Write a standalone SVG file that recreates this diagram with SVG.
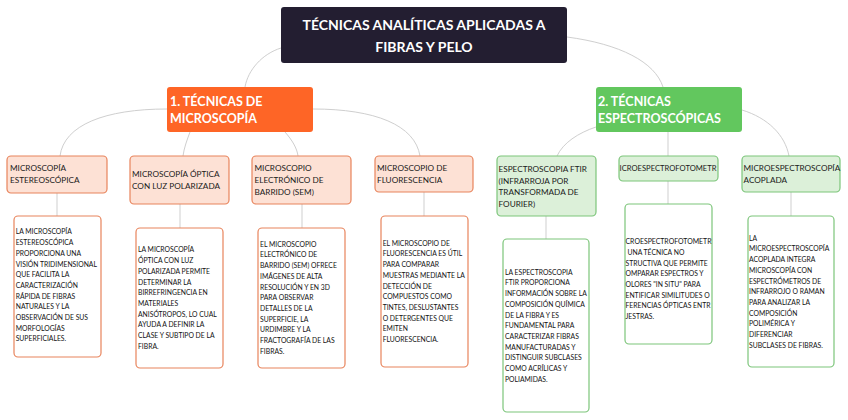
<svg xmlns="http://www.w3.org/2000/svg" width="848" height="420" viewBox="0 0 848 420">
<defs>
<style>
.conn{fill:none;stroke:#cfcfcf;stroke-width:1}
.title{fill:#231e31}
.tt{font-family:Lato,"Liberation Sans",sans-serif;font-weight:bold;font-size:14px;fill:#ffffff}
.ht{font-family:Lato,"Liberation Sans",sans-serif;font-weight:bold;font-size:12.5px;fill:#ffffff}
.oc{fill:#fde1d5;stroke:#e8845c;stroke-width:1.2}
.gc{fill:#dcf0d9;stroke:#7cc57a;stroke-width:1.2}
.od{fill:#ffffff;stroke:#e8845c;stroke-width:1.2}
.gd{fill:#ffffff;stroke:#7cc57a;stroke-width:1.2}
.ct{font-family:Lato,"Liberation Sans",sans-serif;font-size:8.2px;fill:#1a1a1a}
.dt{font-family:Lato,"Liberation Sans",sans-serif;font-size:6.8px;fill:#111111}
</style>
<clipPath id="cg2"><rect x="619" y="156" width="99" height="25"/></clipPath>
<clipPath id="cg2d"><rect x="625" y="204" width="87" height="140"/></clipPath>
</defs>
<rect width="848" height="420" fill="#ffffff"/>
<g id="connectors">
<path class="conn" d="M281,48 C262,54 248,70 245,87"/>
<path class="conn" d="M567,37 C620,44 655,62 663,87"/>
<path class="conn" d="M167,109 C105,109 64,125 60,156"/>
<path class="conn" d="M190,132 C187,140 184,148 183,156"/>
<path class="conn" d="M285,132 C292,140 297,148 298,156"/>
<path class="conn" d="M313,109 C375,109 415,125 420,156"/>
<path class="conn" d="M596,127 C578,133 563,143 557,156"/>
<path class="conn" d="M668,132 L668,156"/>
<path class="conn" d="M742,110 C768,118 785,135 789,156"/>
<path class="conn" d="M57,193 L57,216"/>
<path class="conn" d="M180,204 L180,228"/>
<path class="conn" d="M302,204 L302,228"/>
<path class="conn" d="M424,192 L424,216"/>
<path class="conn" d="M546,216 L546,239"/>
<path class="conn" d="M668,181 L668,204"/>
<path class="conn" d="M791,192 L791,216"/>
</g>
<g id="title">
<rect class="title" x="281" y="7" width="286" height="56" rx="3"/>
<text class="tt" x="424" y="30" text-anchor="middle">TÉCNICAS ANALÍTICAS APLICADAS A</text>
<text class="tt" x="424" y="52" text-anchor="middle">FIBRAS Y PELO</text>
</g>
<g id="microscopia">
<rect x="167" y="87" width="146" height="45" rx="3" fill="#fe6526"/>
<text class="ht" x="170" y="105.5">1. TÉCNICAS DE</text>
<text class="ht" x="170" y="122.5">MICROSCOPÍA</text>
</g>
<g id="espectroscopicas">
<rect x="596" y="87" width="146" height="45" rx="3" fill="#62c75e"/>
<text class="ht" x="598" y="105.5">2. TÉCNICAS</text>
<text class="ht" x="598" y="122.5">ESPECTROSCÓPICAS</text>
</g>
<g id="estereo">
<rect class="oc" x="7" y="156" width="100" height="37" rx="4"/>
<text class="ct" x="10" y="171">MICROSCOPÍA</text>
<text class="ct" x="10" y="183">ESTEREOSCÓPICA</text>
</g>
<g id="optica">
<rect class="oc" x="130" y="156" width="99" height="48" rx="4"/>
<text class="ct" x="132" y="177">MICROSCOPÍA ÓPTICA</text>
<text class="ct" x="132" y="189">CON LUZ POLARIZADA</text>
</g>
<g id="sem">
<rect class="oc" x="252" y="156" width="99" height="48" rx="4"/>
<text class="ct" x="254.5" y="171">MICROSCOPIO</text>
<text class="ct" x="254.5" y="183">ELECTRÓNICO DE</text>
<text class="ct" x="254.5" y="195">BARRIDO (SEM)</text>
</g>
<g id="fluorescencia">
<rect class="oc" x="375" y="156" width="98" height="36" rx="4"/>
<text class="ct" x="377" y="171">MICROSCOPIO DE</text>
<text class="ct" x="377" y="183">FLUORESCENCIA</text>
</g>
<g id="ftir">
<rect class="gc" x="497" y="156" width="99" height="60" rx="4"/>
<text class="ct" x="498.5" y="172">ESPECTROSCOPIA FTIR</text>
<text class="ct" x="498.5" y="183.7">(INFRARROJA POR</text>
<text class="ct" x="498.5" y="195.3">TRANSFORMADA DE</text>
<text class="ct" x="498.5" y="206.5">FOURIER)</text>
</g>
<g id="microespectrofotometria">
<rect class="gc" x="619" y="156" width="99" height="25" rx="4"/>
<text class="ct" x="619.5" y="171" textLength="97" lengthAdjust="spacingAndGlyphs" clip-path="url(#cg2)">ICROESPECTROFOTOMETR</text>
</g>
<g id="acoplada">
<rect class="gc" x="742" y="156" width="98" height="36" rx="4"/>
<text class="ct" x="743.5" y="171">MICROESPECTROSCOPÍA</text>
<text class="ct" x="743.5" y="183">ACOPLADA</text>
</g>
<g id="desc-estereo">
<rect class="od" x="14" y="216" width="87" height="141" rx="4"/>
<text class="dt" x="15.7" y="234.4">LA MICROSCOPÍA</text>
<text class="dt" x="15.7" y="245.1">ESTEREOSCÓPICA</text>
<text class="dt" x="15.7" y="255.8">PROPORCIONA UNA</text>
<text class="dt" x="15.7" y="266.5">VISIÓN TRIDIMENSIONAL</text>
<text class="dt" x="15.7" y="277.2">QUE FACILITA LA</text>
<text class="dt" x="15.7" y="287.9">CARACTERIZACIÓN</text>
<text class="dt" x="15.7" y="298.6">RÁPIDA DE FIBRAS</text>
<text class="dt" x="15.7" y="309.3">NATURALES Y LA</text>
<text class="dt" x="15.7" y="320">OBSERVACIÓN DE SUS</text>
<text class="dt" x="15.7" y="330.7">MORFOLOGÍAS</text>
<text class="dt" x="15.7" y="341.4">SUPERFICIALES.</text>
</g>
<g id="desc-optica">
<rect class="od" x="136" y="228" width="87" height="140" rx="4"/>
<text class="dt" x="138" y="252.4">LA MICROSCOPÍA</text>
<text class="dt" x="138" y="263.1">ÓPTICA CON LUZ</text>
<text class="dt" x="138" y="273.8">POLARIZADA PERMITE</text>
<text class="dt" x="138" y="284.5">DETERMINAR LA</text>
<text class="dt" x="138" y="295.2">BIRREFRINGENCIA EN</text>
<text class="dt" x="138" y="305.9">MATERIALES</text>
<text class="dt" x="138" y="316.6">ANISÓTROPOS, LO CUAL</text>
<text class="dt" x="138" y="327.3">AYUDA A DEFINIR LA</text>
<text class="dt" x="138" y="338">CLASE Y SUBTIPO DE LA</text>
<text class="dt" x="138" y="348.7">FIBRA.</text>
</g>
<g id="desc-sem">
<rect class="od" x="258" y="228" width="87" height="140" rx="4"/>
<text class="dt" x="260" y="246.7">EL MICROSCOPIO</text>
<text class="dt" x="260" y="257.4">ELECTRÓNICO DE</text>
<text class="dt" x="260" y="268.1">BARRIDO (SEM) OFRECE</text>
<text class="dt" x="260" y="278.8">IMÁGENES DE ALTA</text>
<text class="dt" x="260" y="289.5">RESOLUCIÓN Y EN 3D</text>
<text class="dt" x="260" y="300.2">PARA OBSERVAR</text>
<text class="dt" x="260" y="310.9">DETALLES DE LA</text>
<text class="dt" x="260" y="321.6">SUPERFICIE, LA</text>
<text class="dt" x="260" y="332.3">URDIMBRE Y LA</text>
<text class="dt" x="260" y="343">FRACTOGRAFÍA DE LAS</text>
<text class="dt" x="260" y="353.7">FIBRAS.</text>
</g>
<g id="desc-fluorescencia">
<rect class="od" x="381" y="216" width="87" height="151" rx="4"/>
<text class="dt" x="382.7" y="245.7">EL MICROSCOPIO DE</text>
<text class="dt" x="382.7" y="256.4">FLUORESCENCIA ES ÚTIL</text>
<text class="dt" x="382.7" y="267.1">PARA COMPARAR</text>
<text class="dt" x="382.7" y="277.8">MUESTRAS MEDIANTE LA</text>
<text class="dt" x="382.7" y="288.5">DETECCIÓN DE</text>
<text class="dt" x="382.7" y="299.2">COMPUESTOS COMO</text>
<text class="dt" x="382.7" y="309.9">TINTES, DESLUSTANTES</text>
<text class="dt" x="382.7" y="320.6">O DETERGENTES QUE</text>
<text class="dt" x="382.7" y="331.3">EMITEN</text>
<text class="dt" x="382.7" y="342">FLUORESCENCIA.</text>
</g>
<g id="desc-ftir">
<rect class="gd" x="503" y="239" width="86" height="173" rx="4"/>
<text class="dt" x="505" y="274.7">LA ESPECTROSCOPIA</text>
<text class="dt" x="505" y="285.4">FTIR PROPORCIONA</text>
<text class="dt" x="505" y="296.1">INFORMACIÓN SOBRE LA</text>
<text class="dt" x="505" y="306.8">COMPOSICIÓN QUÍMICA</text>
<text class="dt" x="505" y="317.5">DE LA FIBRA Y ES</text>
<text class="dt" x="505" y="328.2">FUNDAMENTAL PARA</text>
<text class="dt" x="505" y="338.9">CARACTERIZAR FIBRAS</text>
<text class="dt" x="505" y="349.6">MANUFACTURADAS Y</text>
<text class="dt" x="505" y="360.3">DISTINGUIR SUBCLASES</text>
<text class="dt" x="505" y="371">COMO ACRÍLICAS Y</text>
<text class="dt" x="505" y="381.7">POLIAMIDAS.</text>
</g>
<g id="desc-microespectrofotometria">
<rect class="gd" x="625" y="204" width="87" height="140" rx="4"/>
<g clip-path="url(#cg2d)">
<text class="dt" x="625.5" y="244.1" textLength="86" lengthAdjust="spacingAndGlyphs">CROESPECTROFOTOMETR</text>
<text class="dt" x="627.5" y="254.8">UNA TÉCNICA NO</text>
<text class="dt" x="625.5" y="265.5">STRUCTIVA QUE PERMITE</text>
<text class="dt" x="625.5" y="276.2">OMPARAR ESPECTROS Y</text>
<text class="dt" x="625.5" y="286.9">OLORES "IN SITU" PARA</text>
<text class="dt" x="625.5" y="297.6">ENTIFICAR SIMILITUDES O</text>
<text class="dt" x="625.5" y="308.3">FERENCIAS ÓPTICAS ENTR</text>
<text class="dt" x="625.5" y="319">JESTRAS.</text>
</g>
</g>
<g id="desc-acoplada">
<rect class="gd" x="748" y="216" width="86" height="151" rx="4"/>
<text class="dt" x="749" y="240.7">LA</text>
<text class="dt" x="749" y="251.4">MICROESPECTROSCOPÍA</text>
<text class="dt" x="749" y="262.1">ACOPLADA INTEGRA</text>
<text class="dt" x="749" y="272.8">MICROSCOPÍA CON</text>
<text class="dt" x="749" y="283.5">ESPECTRÓMETROS DE</text>
<text class="dt" x="749" y="294.2">INFRARROJO O RAMAN</text>
<text class="dt" x="749" y="304.9">PARA ANALIZAR LA</text>
<text class="dt" x="749" y="315.6">COMPOSICIÓN</text>
<text class="dt" x="749" y="326.3">POLIMÉRICA Y</text>
<text class="dt" x="749" y="337">DIFERENCIAR</text>
<text class="dt" x="749" y="347.7">SUBCLASES DE FIBRAS.</text>
</g>
</svg>
